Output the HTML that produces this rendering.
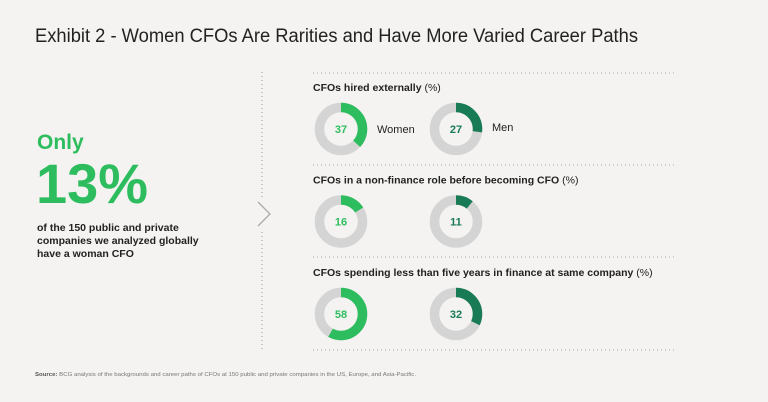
<!DOCTYPE html>
<html><head><meta charset="utf-8"><style>
body{margin:0;background:#f4f3f1;font-family:"Liberation Sans",sans-serif;}
#root{position:relative;width:768px;height:402px;overflow:hidden;background:#f4f3f1;}
</style></head><body>
<div id="root">
<svg width="768" height="402">
<text x="35" y="42" font-size="19" fill="#222" textLength="603" lengthAdjust="spacingAndGlyphs">Exhibit 2 - Women CFOs Are Rarities and Have More Varied Career Paths</text>
<line x1="262" y1="72" x2="262" y2="198" stroke="#999" stroke-width="1" stroke-dasharray="1,3"/>
<line x1="262" y1="232" x2="262" y2="350" stroke="#999" stroke-width="1" stroke-dasharray="1,3"/>
<polyline points="258,202 270,214 258,226" fill="none" stroke="#aaa" stroke-width="1.3"/>
<text x="37" y="149" font-size="21" font-weight="bold" fill="#2ebd5e">Only</text>
<text x="36" y="203" font-size="56" font-weight="bold" fill="#2ebd5e" textLength="112" lengthAdjust="spacingAndGlyphs">13%</text>
<g font-size="10.5" font-weight="bold" fill="#222">
<text x="37" y="231">of the 150 public and private</text>
<text x="37" y="244">companies we analyzed globally</text>
<text x="37" y="257">have a woman CFO</text>
</g>
<g id="charts"></g>
<text x="35" y="376" font-size="5.6" fill="#777" textLength="381" lengthAdjust="spacingAndGlyphs"><tspan font-weight="bold" fill="#555">Source:</tspan> BCG analysis of the backgrounds and career paths of CFOs at 150 public and private companies in the US, Europe, and Asia-Pacific.</text>
</svg>
</div>
<script>
const categories=["CFOs hired externally","CFOs in a non-finance role before becoming CFO","CFOs spending less than five years in finance at same company"];
const womenValues=[37,16,58];
const menValues=[27,11,32];
const seriesNames=["Women","Men"];
const NS="http://www.w3.org/2000/svg";
const g=document.getElementById('charts');
function mk(t,a){const e=document.createElementNS(NS,t);for(const k in a)e.setAttribute(k,a[k]);return e;}
const rowY=i=>129+i*92.5;
const colX=j=>341+j*115;
const r=21.5,C=2*Math.PI*r;
[73,165,257,350].forEach((y,i)=>{const l=mk('line',{x1:313,x2:677,y1:y,y2:y,stroke:'#aaa','stroke-width':1,'stroke-dasharray':'1,3'});

g.appendChild(l);});
categories.forEach((c,i)=>{
 const cy=rowY(i);
 const t=mk('text',{x:313,y:cy-38,'font-size':10.5,'font-weight':'bold',fill:'#222'});
 t.innerHTML=c+' <tspan font-weight="normal">(%)</tspan>';
 
 
 g.appendChild(t);
 [womenValues[i],menValues[i]].forEach((v,j)=>{
  const cx=colX(j),col=j==0?'#2ebd5e':'#197a56';
  const bg=mk('circle',{cx:cx,cy:cy,r:r,fill:'none',stroke:'#d4d4d4','stroke-width':9.5});
  
  
  g.appendChild(bg);
  const arc=mk('circle',{cx:cx,cy:cy,r:r,fill:'none',stroke:col,'stroke-width':9.5,'stroke-dasharray':(C*v/100)+' '+C,transform:`rotate(-90 ${cx} ${cy})`});
  
  
  g.appendChild(arc);
  const tv=mk('text',{x:cx,y:cy+4,'text-anchor':'middle','font-size':11,'font-weight':'bold',fill:col});
  tv.textContent=v;
  
  
  g.appendChild(tv);
  if(i==0){const lb=mk('text',{x:cx+36,y:cy+(j==0?4:2),'font-size':11,fill:'#222'});lb.textContent=seriesNames[j];
  
  g.appendChild(lb);}
 });
});
</script>
</body></html>
